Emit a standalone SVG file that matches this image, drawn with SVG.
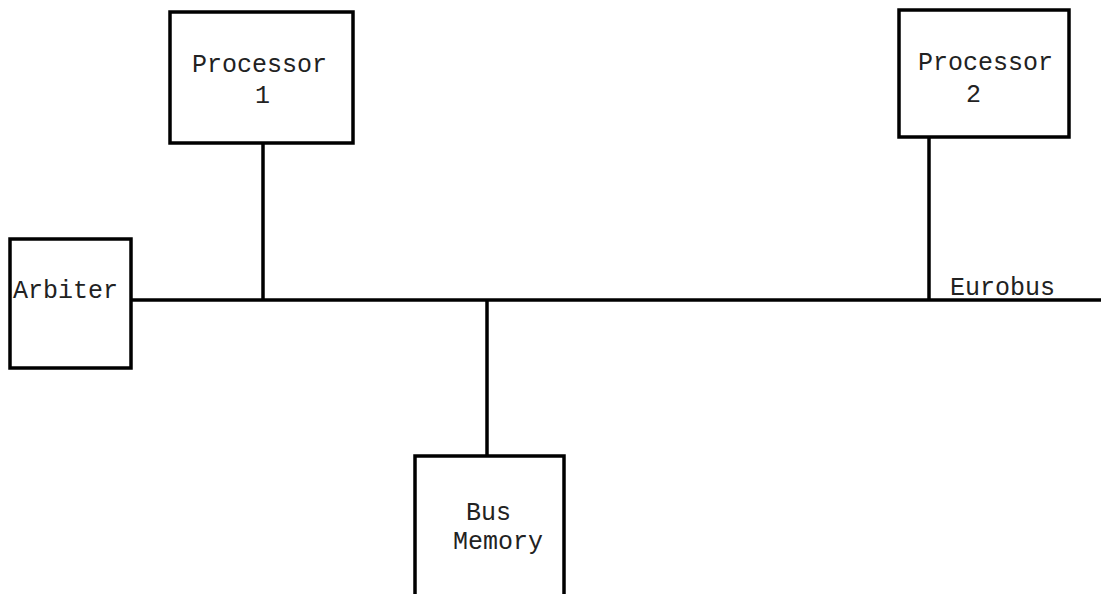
<svg xmlns="http://www.w3.org/2000/svg" width="1101" height="594" viewBox="0 0 1101 594">
<style>
.box{fill:#fff;stroke:#000;stroke-width:3.5}
.ln{stroke:#000;stroke-width:3.5;fill:none}
.t{font-family:"Liberation Mono","Courier New",monospace;font-size:25px;fill:#222}
</style>
<rect width="1101" height="594" fill="#fff"/>
<g id="connectors">
<line class="ln" x1="131" y1="300" x2="1101" y2="300"/>
<line class="ln" x1="263" y1="143" x2="263" y2="300"/>
<line class="ln" x1="929" y1="137" x2="929" y2="300"/>
<line class="ln" x1="487" y1="300" x2="487" y2="456"/>
</g>
<g id="processor1">
<rect class="box" x="170" y="12" width="183" height="131"/>
<text class="t" x="192" y="72">Processor</text>
<text class="t" x="255" y="103">1</text>
</g>
<g id="processor2">
<rect class="box" x="899" y="10" width="170" height="127"/>
<text class="t" x="918" y="70">Processor</text>
<text class="t" x="966" y="102">2</text>
</g>
<g id="arbiter">
<rect class="box" x="10" y="239" width="121" height="129"/>
<text class="t" x="13" y="298">Arbiter</text>
</g>
<g id="busmemory">
<rect class="box" x="415" y="456" width="149" height="140"/>
<text class="t" x="466" y="520">Bus</text>
<text class="t" x="453" y="549">Memory</text>
</g>
<g id="eurobus-label">
<text class="t" x="950" y="295">Eurobus</text>
</g>
</svg>
